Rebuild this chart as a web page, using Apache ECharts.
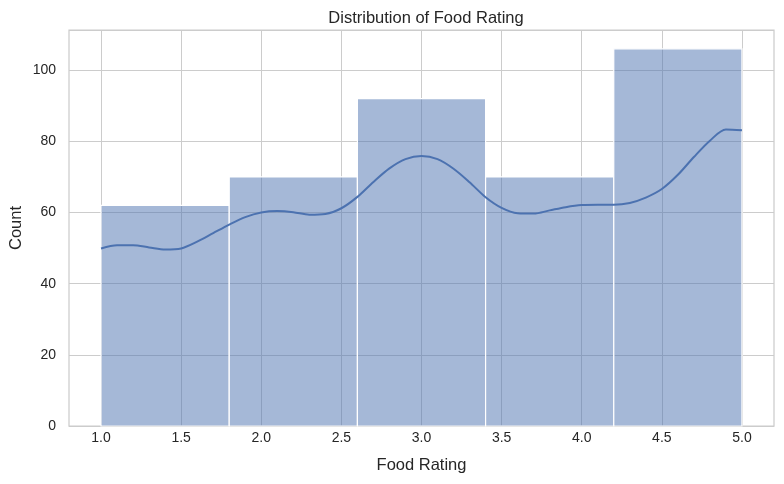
<!DOCTYPE html>
<html>
<head>
<meta charset="utf-8">
<script src="https://cdn.jsdelivr.net/npm/echarts@6/dist/echarts.min.js"></script>
<style>
  html, body { margin: 0; padding: 0; background: #fff; }
  #chart { width: 784px; height: 484px; }
</style>
</head>
<body>
<div id="chart"></div>
<script>
// histogram bins (left edges), bin width and counts
var binStarts = [1.0, 1.8, 2.6, 3.4, 4.2];
var binWidth = 0.8;
var counts = [62, 70, 92, 70, 106];

// kde curve
var kdeX = [1.0, 1.1, 1.2, 1.3, 1.4, 1.5, 1.6, 1.7, 1.8, 1.9, 2.0, 2.1, 2.2, 2.3, 2.4, 2.5, 2.6, 2.7, 2.8, 2.9, 3.0,
            3.1, 3.2, 3.3, 3.4, 3.5, 3.6, 3.7, 3.8, 3.9, 4.0, 4.1, 4.2, 4.3, 4.4, 4.5, 4.6, 4.7, 4.8, 4.9, 5.0];
var kdeY = [49.9, 50.8, 50.8, 50.2, 49.6, 49.9, 51.8, 54.2, 56.6, 58.7, 60.0, 60.4, 60.1, 59.4, 59.6, 61.2, 64.4, 68.6, 72.4, 75.0, 75.9,
            75.0, 72.3, 68.5, 64.3, 61.3, 59.8, 59.7, 60.6, 61.5, 62.1, 62.2, 62.2, 62.7, 64.2, 66.6, 70.6, 75.6, 80.2, 83.3, 83.1];

var xTicks = [1.0, 1.5, 2.0, 2.5, 3.0, 3.5, 4.0, 4.5, 5.0];

var textColor = '#262626';
var gridColor = '#cccccc';
var blue = '#4c72b0';
var font = 'Liberation Sans, Arial, sans-serif';

var myChart = echarts.init(document.getElementById('chart'));

var barData = binStarts.map(function (s, i) {
    return [s, s + binWidth, counts[i]];
});
var kdeData = kdeX.map(function (x, i) {
    return [x, kdeY[i]];
});

var option = {
    backgroundColor: '#ffffff',
    animation: false,
    textStyle: { fontFamily: font, color: textColor },
    title: {
        text: 'Distribution of Food Rating',
        left: 421,
        textAlign: 'center',
        top: 5,
        textStyle: { fontSize: 16.5, fontWeight: 'normal', color: textColor, fontFamily: font }
    },
    grid: {
        left: 69, right: 10, top: 30, bottom: 58,
        containLabel: false,
        outerBoundsMode: 'none',
        show: true,
        borderColor: gridColor,
        borderWidth: 1.25,
        backgroundColor: '#ffffff'
    },
    xAxis: {
        type: 'value',
        min: 0.8,
        max: 5.2,
        name: 'Food Rating',
        nameLocation: 'middle',
        nameGap: 31,
        nameMoveOverlap: false,
        nameTextStyle: { fontSize: 16.5, color: textColor, fontFamily: font },
        axisLine: { show: false },
        axisTick: { show: false, customValues: xTicks },
        axisLabel: {
            customValues: xTicks,
            margin: 5,
            fontSize: 14,
            color: textColor,
            formatter: function (v) { return v.toFixed(1); }
        },
        splitLine: { show: true, lineStyle: { color: gridColor, width: 1 } }
    },
    yAxis: {
        type: 'value',
        min: 0,
        max: 111.3,
        interval: 20,
        name: 'Count',
        nameLocation: 'middle',
        nameGap: 44,
        nameMoveOverlap: false,
        nameTextStyle: { fontSize: 16.5, color: textColor, fontFamily: font },
        axisLine: { show: false },
        axisTick: { show: false },
        axisLabel: { margin: 13, fontSize: 14, color: textColor, showMaxLabel: false },
        splitLine: { show: true, lineStyle: { color: gridColor, width: 1 } }
    },
    series: [
        {
            type: 'custom',
            name: 'hist',
            data: barData,
            encode: { x: [0, 1], y: 2 },
            renderItem: function (params, api) {
                var p0 = api.coord([api.value(0), api.value(2)]);
                var p1 = api.coord([api.value(1), 0]);
                return {
                    type: 'rect',
                    shape: { x: p0[0], y: p0[1], width: p1[0] - p0[0], height: p1[1] - p0[1] },
                    style: { fill: 'rgba(76,114,176,0.5)', stroke: '#ffffff', lineWidth: 1.2 }
                };
            },
            z: 2
        },
        {
            type: 'line',
            name: 'kde',
            data: kdeData,
            smooth: 0.3,
            showSymbol: false,
            symbol: 'none',
            lineStyle: { color: blue, width: 2 },
            z: 3
        }
    ]
};

myChart.setOption(option);
</script>
</body>
</html>
